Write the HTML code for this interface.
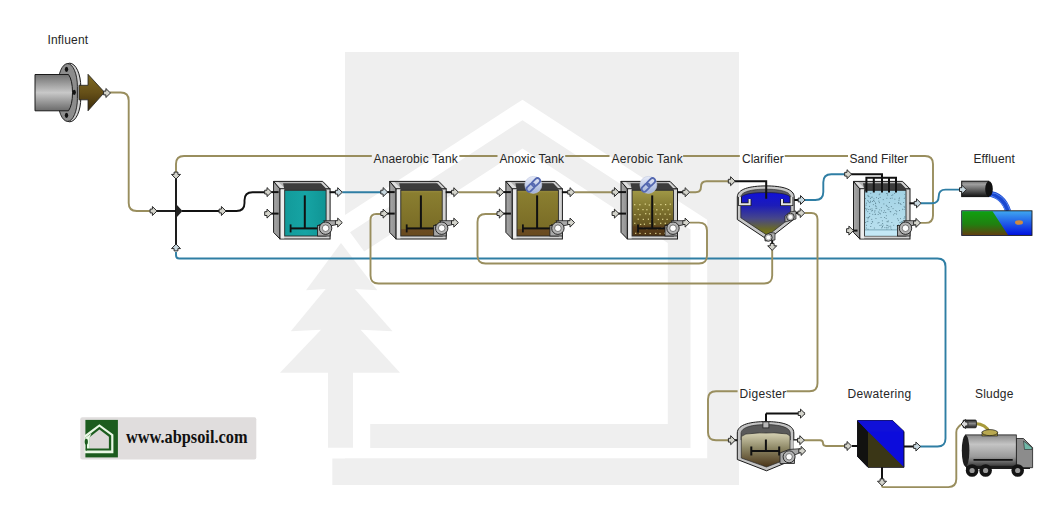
<!DOCTYPE html>
<html><head><meta charset="utf-8"><style>
html,body{margin:0;padding:0;background:#fff;}
svg{display:block;}
</style></head><body>
<svg width="1063" height="527" viewBox="0 0 1063 527" font-family="Liberation Sans, sans-serif">

<defs>
<linearGradient id="sidegrad" x1="0" y1="0" x2="1" y2="0"><stop offset="0" stop-color="#a8a8a8"/><stop offset="1" stop-color="#8e8e8e"/></linearGradient>
<linearGradient id="teal" x1="0" y1="0" x2="1" y2="0"><stop offset="0" stop-color="#129a9a"/><stop offset="0.5" stop-color="#16a4a4"/><stop offset="1" stop-color="#109494"/></linearGradient>
<linearGradient id="olive" x1="0" y1="0" x2="0" y2="1"><stop offset="0" stop-color="#9a8e40"/><stop offset="0.06" stop-color="#8a7e30"/><stop offset="0.84" stop-color="#7a6c26"/><stop offset="0.86" stop-color="#6c4c22"/><stop offset="1" stop-color="#684a1e"/></linearGradient>
<linearGradient id="olive2" x1="0" y1="0" x2="0" y2="1"><stop offset="0" stop-color="#a09846"/><stop offset="0.35" stop-color="#847a32"/><stop offset="0.75" stop-color="#645420"/><stop offset="0.8" stop-color="#5a3e1a"/><stop offset="1" stop-color="#4e3414"/></linearGradient>
<linearGradient id="sand" x1="0" y1="0" x2="0" y2="1"><stop offset="0" stop-color="#a2d2e4"/><stop offset="1" stop-color="#bce2f0"/></linearGradient>
<linearGradient id="pipegrad" x1="0" y1="0" x2="0" y2="1"><stop offset="0" stop-color="#707070"/><stop offset="0.5" stop-color="#c8c8c8"/><stop offset="1" stop-color="#6a6a6a"/></linearGradient>
<linearGradient id="arrowgrad" x1="0" y1="0" x2="0" y2="1"><stop offset="0" stop-color="#7e6a22"/><stop offset="0.5" stop-color="#665018"/><stop offset="1" stop-color="#3a2a0a"/></linearGradient>
<linearGradient id="clargrad" x1="0" y1="0" x2="0" y2="1"><stop offset="0" stop-color="#1010d8"/><stop offset="0.3" stop-color="#1c1cb8"/><stop offset="0.6" stop-color="#46468a"/><stop offset="0.85" stop-color="#6a6a28"/><stop offset="1" stop-color="#7a7a14"/></linearGradient>
<linearGradient id="diggrad" x1="0" y1="0" x2="0" y2="1"><stop offset="0" stop-color="#d6d2b4"/><stop offset="0.45" stop-color="#8e8866"/><stop offset="1" stop-color="#4a3418"/></linearGradient>
<linearGradient id="effpipe" x1="0" y1="0" x2="0" y2="1"><stop offset="0" stop-color="#707070"/><stop offset="0.2" stop-color="#a0a0a0"/><stop offset="1" stop-color="#141414"/></linearGradient>
<linearGradient id="watergrad" x1="0" y1="0" x2="0" y2="1"><stop offset="0" stop-color="#40a8f0"/><stop offset="1" stop-color="#0010e0"/></linearGradient>
<linearGradient id="groundgrad" x1="0" y1="0" x2="0" y2="1"><stop offset="0" stop-color="#10a010"/><stop offset="0.55" stop-color="#208010"/><stop offset="1" stop-color="#604010"/></linearGradient>
<linearGradient id="tankgrad" x1="0" y1="0" x2="0" y2="1"><stop offset="0" stop-color="#8a8a8a"/><stop offset="0.3" stop-color="#c4c4c4"/><stop offset="0.7" stop-color="#9a9a9a"/><stop offset="1" stop-color="#3a3a3a"/></linearGradient>
<linearGradient id="linkgrad" x1="0" y1="0" x2="0" y2="1"><stop offset="0" stop-color="#e8ecf8"/><stop offset="1" stop-color="#a0b0d8"/></linearGradient>
<linearGradient id="nozgrad" x1="0" y1="0" x2="0" y2="1"><stop offset="0" stop-color="#202020"/><stop offset="0.45" stop-color="#8a8a8a"/><stop offset="1" stop-color="#1a1a1a"/></linearGradient>
</defs>

<rect width="1063" height="527" fill="#fff"/>
<rect x="345" y="52" width="394" height="433" fill="#efefef"/>
<polygon points="522.5,99.7 707.2,219.8 707.2,458.5 300,458.5 300,244.3" fill="#fff"/>
<polygon points="522.5,120.2 690.5,229.4 690.5,448 370.2,448 370.2,424 667.8,424 667.8,243 522.5,148.6 364.2,251.5 350,232.3" fill="#efefef"/>
<rect x="332.3" y="458.5" width="406.7" height="26.5" fill="#efefef"/>
<polygon points="341,243 377.3,290.3 355,289 392.5,331.3 360.6,329.7 400,372.8 353,372.8 353,447.7 328,447.7 328,372.8 280,372.8 321,329.7 290.8,331.3 325.7,289 306,290.3" fill="#efefef"/>
<path d="M110,92.5 L120.70,92.50 Q128.7,92.5 128.70,100.50 L128.70,203.00 Q128.7,211 136.70,211.00 L150,211" fill="none" stroke="#998e5e" stroke-width="1.9"/>
<path d="M157,211 L176,211" fill="none" stroke="#111" stroke-width="1.9"/>
<path d="M176,177 L176,246" fill="none" stroke="#111" stroke-width="1.9"/>
<path d="M182,211 L236.50,211.00 Q244.5,211 244.50,203.00 L244.50,200.30 Q244.5,192.3 252.50,192.30 L266,192.3" fill="none" stroke="#111" stroke-width="1.9"/>
<path d="M918,222.9 L925.50,222.90 Q933,222.9 933.00,215.40 L933.00,164.00 Q933,156 925.00,156.00 L909.8,156" fill="none" stroke="#998e5e" stroke-width="1.9"/>
<path d="M371.8,156 L184.00,156.00 Q176,156 176.00,164.00 L176,172" fill="none" stroke="#998e5e" stroke-width="1.9"/>
<path d="M459.4,156 L497.5,156" fill="none" stroke="#998e5e" stroke-width="1.9"/>
<path d="M565.2,156 L609.5,156" fill="none" stroke="#998e5e" stroke-width="1.9"/>
<path d="M683.1,156 L739.8,156" fill="none" stroke="#998e5e" stroke-width="1.9"/>
<path d="M784.7,156 L848,156" fill="none" stroke="#998e5e" stroke-width="1.9"/>
<path d="M176,252 L176.00,255.25 Q176,258.5 179.25,258.50 L937.50,258.50 Q945.5,258.5 945.50,266.50 L945.50,438.50 Q945.5,446.5 937.50,446.50 L918,446.5" fill="none" stroke="#2f7ea4" stroke-width="1.9"/>
<path d="M342.3,192.2 L383,192.2" fill="none" stroke="#2f7ea4" stroke-width="1.9"/>
<path d="M458.4,192.2 L499,192.2" fill="none" stroke="#998e5e" stroke-width="1.9"/>
<path d="M574.6,192.2 L615,192.2" fill="none" stroke="#998e5e" stroke-width="1.9"/>
<path d="M689.7,192.2 L695.50,192.20 Q701,192.2 701.00,186.70 L701.00,186.70 Q701,181.2 706.50,181.20 L729,181.2" fill="none" stroke="#998e5e" stroke-width="1.9"/>
<path d="M772.2,250 L772.20,275.50 Q772.2,283.5 764.20,283.50 L378.50,283.50 Q370.5,283.5 370.50,275.50 L370.50,219.75 Q370.5,214 376.25,214.00 L382,214" fill="none" stroke="#998e5e" stroke-width="1.9"/>
<path d="M689.7,222.6 L699.00,222.60 Q707,222.6 707.00,230.60 L707.00,255.50 Q707,263.5 699.00,263.50 L485.50,263.50 Q477.5,263.5 477.50,255.50 L477.50,222.00 Q477.5,214 485.50,214.00 L498,214" fill="none" stroke="#998e5e" stroke-width="1.9"/>
<path d="M805,213 L811.25,213.00 Q817.5,213 817.50,219.25 L817.50,383.20 Q817.5,391.2 809.50,391.20 L786.6,391.2" fill="none" stroke="#998e5e" stroke-width="1.9"/>
<path d="M737.6,391.2 L716.00,391.20 Q708,391.2 708.00,399.20 L708.00,432.20 Q708,440.2 716.00,440.20 L730,440.2" fill="none" stroke="#998e5e" stroke-width="1.9"/>
<path d="M805,200 L815.30,200.00 Q823.3,200 823.30,192.00 L823.30,182.20 Q823.3,174.2 831.30,174.20 L846,174.2" fill="none" stroke="#2f7ea4" stroke-width="1.9"/>
<path d="M921,203.3 L931.85,203.30 Q938.7,203.3 938.70,196.45 L938.70,196.45 Q938.7,189.6 945.55,189.60 L960,189.6" fill="none" stroke="#2f7ea4" stroke-width="1.9"/>
<path d="M804,440.2 L820.10,440.20 Q823,440.2 823.00,443.10 L823.00,443.10 Q823,446 825.90,446.00 L847,446" fill="none" stroke="#998e5e" stroke-width="1.9"/>
<path d="M882,485 L882.00,486.05 Q882,487.1 883.05,487.10 L948.30,487.10 Q956.3,487.1 956.30,479.10 L956.30,432.25 Q956.3,429 958.65,426.75 L961,424.5" fill="none" stroke="#998e5e" stroke-width="1.9"/>
<rect x="58.6" y="63.2" width="22.2" height="58.6" rx="11.1" ry="24" fill="#d0d0d0" stroke="#1a1a1a" stroke-width="1"/>
<rect x="57.8" y="63.6" width="19.6" height="57.8" rx="9.8" ry="23" fill="#8c8c8c" stroke="#1a1a1a" stroke-width="0.9"/>
<path d="M35,74.5 L68.5,74.5 Q72.5,80 72.5,92.5 Q72.5,105 68.5,110.8 L35,110.8 Z" fill="url(#pipegrad)" stroke="#1a1a1a" stroke-width="1"/>
<ellipse cx="66.5" cy="69.3" rx="1.7" ry="2.6" fill="#111"/><ellipse cx="74.2" cy="92.3" rx="1.7" ry="2.6" fill="#111"/><ellipse cx="66.5" cy="115.3" rx="1.7" ry="2.6" fill="#111"/>
<path d="M79,85.3 L88,85.3 L88,74.3 L104.5,92.3 L88,110.8 L88,99.8 L79,99.8 Z" fill="url(#arrowgrad)" stroke="#222" stroke-width="0.8"/>
<polygon points="105.90,88.50 110.50,93.00 105.90,97.50 105.90,94.90 103.60,94.90 103.60,91.10 105.90,91.10" fill="#d4d4cc" stroke="#2a2a2a" stroke-width="1" stroke-linejoin="miter"/>
<polygon points="152.40,206.50 157.00,211.00 152.40,215.50 152.40,212.90 150.10,212.90 150.10,209.10 152.40,209.10" fill="#d4d4cc" stroke="#2a2a2a" stroke-width="1" stroke-linejoin="miter"/>
<polygon points="171.50,174.40 176.00,179.00 180.50,174.40 177.90,174.40 177.90,172.10 174.10,172.10 174.10,174.40" fill="#d4d4cc" stroke="#2a2a2a" stroke-width="1" stroke-linejoin="miter"/>
<polygon points="171.50,248.60 176.00,244.00 180.50,248.60 177.90,248.60 177.90,250.90 174.10,250.90 174.10,248.60" fill="#c8d8e0" stroke="#2a2a2a" stroke-width="1" stroke-linejoin="miter"/>
<polygon points="176,204 182.5,211 176,218" fill="#222"/>
<polygon points="221.40,206.50 226.00,211.00 221.40,215.50 221.40,212.90 219.10,212.90 219.10,209.10 221.40,209.10" fill="#d4d4cc" stroke="#2a2a2a" stroke-width="1" stroke-linejoin="miter"/>
<g transform="translate(273.6,181.4)">
<polygon points="0,0 6.4,7.5 6.4,57.6 0,51" fill="url(#sidegrad)" stroke="#1a1a1a" stroke-width="1"/>
<polygon points="0,0 49.1,0 56.5,7.5 6.4,7.5" fill="#b4b4b4" stroke="#1a1a1a" stroke-width="1"/>
<polygon points="1.5,0.8 6.8,6.8 11,6.8 5,0.8" fill="#e0e0e0"/>
<polygon points="48.5,0.8 54.5,6.8 51,6.8 46,0.8" fill="#d8d8d8"/>
<rect x="6.4" y="7.5" width="50.1" height="50.1" fill="#d2d2d2" stroke="#1a1a1a" stroke-width="1"/>
<polygon points="9.5,1.8 47.5,1.8 52.5,7 52.5,9 11,9" fill="#3c3c3c"/>
<rect x="7.2" y="8" width="3.4" height="49" fill="#ececec"/>
<rect x="11.1" y="8.9" width="41.4" height="45.7" fill="url(#teal)" stroke="#2a2a2a" stroke-width="0.9"/>
<line x1="31.2" y1="14" x2="31.2" y2="47" stroke="#111" stroke-width="2"/>
<line x1="17" y1="47" x2="46" y2="47" stroke="#111" stroke-width="2"/>
<line x1="17" y1="43" x2="17" y2="51" stroke="#111" stroke-width="1.8"/>
<line x1="46" y1="43" x2="46" y2="51" stroke="#111" stroke-width="1.8"/>
<rect x="44" y="44" width="12.5" height="10.6" fill="#a8a8a8" stroke="#1a1a1a" stroke-width="0.8"/>
<path d="M50,39.3 L62.5,39.3 L62.5,43.3 L55,45 Z" fill="#a8a8a8" stroke="#1a1a1a" stroke-width="0.8"/>
<circle cx="52" cy="46.8" r="6.2" fill="#b4b4b4" stroke="#1a1a1a" stroke-width="0.9"/>
<circle cx="52" cy="46.8" r="3.3" fill="#fff" stroke="#333" stroke-width="0.6"/>
<line x1="-3" y1="10.7" x2="5" y2="10.7" stroke="#111" stroke-width="2"/>
<line x1="-3" y1="32.2" x2="5" y2="32.2" stroke="#111" stroke-width="2"/>
<line x1="56" y1="10.8" x2="63" y2="10.8" stroke="#111" stroke-width="2"/>
</g>
<polygon points="267.00,187.60 271.60,192.10 267.00,196.60 267.00,194.00 264.70,194.00 264.70,190.20 267.00,190.20" fill="#d4d4cc" stroke="#2a2a2a" stroke-width="1" stroke-linejoin="miter"/>
<polygon points="267.00,209.10 271.60,213.60 267.00,218.10 267.00,215.50 264.70,215.50 264.70,211.70 267.00,211.70" fill="#d4d4cc" stroke="#2a2a2a" stroke-width="1" stroke-linejoin="miter"/>
<polygon points="337.70,187.70 342.30,192.20 337.70,196.70 337.70,194.10 335.40,194.10 335.40,190.30 337.70,190.30" fill="#c8d8e0" stroke="#2a2a2a" stroke-width="1" stroke-linejoin="miter"/>
<polygon points="337.70,218.10 342.30,222.60 337.70,227.10 337.70,224.50 335.40,224.50 335.40,220.70 337.70,220.70" fill="#d4d4cc" stroke="#2a2a2a" stroke-width="1" stroke-linejoin="miter"/>
<g transform="translate(389.7,181.4)">
<polygon points="0,0 6.4,7.5 6.4,57.6 0,51" fill="url(#sidegrad)" stroke="#1a1a1a" stroke-width="1"/>
<polygon points="0,0 49.1,0 56.5,7.5 6.4,7.5" fill="#b4b4b4" stroke="#1a1a1a" stroke-width="1"/>
<polygon points="1.5,0.8 6.8,6.8 11,6.8 5,0.8" fill="#e0e0e0"/>
<polygon points="48.5,0.8 54.5,6.8 51,6.8 46,0.8" fill="#d8d8d8"/>
<rect x="6.4" y="7.5" width="50.1" height="50.1" fill="#d2d2d2" stroke="#1a1a1a" stroke-width="1"/>
<polygon points="9.5,1.8 47.5,1.8 52.5,7 52.5,9 11,9" fill="#3c3c3c"/>
<rect x="7.2" y="8" width="3.4" height="49" fill="#ececec"/>
<rect x="11.1" y="8.9" width="41.4" height="45.7" fill="url(#olive)" stroke="#2a2a2a" stroke-width="0.9"/>
<line x1="31.2" y1="14" x2="31.2" y2="47" stroke="#111" stroke-width="2"/>
<line x1="17" y1="47" x2="46" y2="47" stroke="#111" stroke-width="2"/>
<line x1="17" y1="43" x2="17" y2="51" stroke="#111" stroke-width="1.8"/>
<line x1="46" y1="43" x2="46" y2="51" stroke="#111" stroke-width="1.8"/>
<rect x="44" y="44" width="12.5" height="10.6" fill="#a8a8a8" stroke="#1a1a1a" stroke-width="0.8"/>
<path d="M50,39.3 L62.5,39.3 L62.5,43.3 L55,45 Z" fill="#a8a8a8" stroke="#1a1a1a" stroke-width="0.8"/>
<circle cx="52" cy="46.8" r="6.2" fill="#b4b4b4" stroke="#1a1a1a" stroke-width="0.9"/>
<circle cx="52" cy="46.8" r="3.3" fill="#fff" stroke="#333" stroke-width="0.6"/>
<line x1="-3" y1="10.7" x2="5" y2="10.7" stroke="#111" stroke-width="2"/>
<line x1="-3" y1="32.2" x2="5" y2="32.2" stroke="#111" stroke-width="2"/>
<line x1="56" y1="10.8" x2="63" y2="10.8" stroke="#111" stroke-width="2"/>
</g>
<polygon points="383.10,187.60 387.70,192.10 383.10,196.60 383.10,194.00 380.80,194.00 380.80,190.20 383.10,190.20" fill="#c8d8e0" stroke="#2a2a2a" stroke-width="1" stroke-linejoin="miter"/>
<polygon points="383.10,209.10 387.70,213.60 383.10,218.10 383.10,215.50 380.80,215.50 380.80,211.70 383.10,211.70" fill="#d4d4cc" stroke="#2a2a2a" stroke-width="1" stroke-linejoin="miter"/>
<polygon points="453.80,187.70 458.40,192.20 453.80,196.70 453.80,194.10 451.50,194.10 451.50,190.30 453.80,190.30" fill="#d4d4cc" stroke="#2a2a2a" stroke-width="1" stroke-linejoin="miter"/>
<polygon points="453.80,218.10 458.40,222.60 453.80,227.10 453.80,224.50 451.50,224.50 451.50,220.70 453.80,220.70" fill="#d4d4cc" stroke="#2a2a2a" stroke-width="1" stroke-linejoin="miter"/>
<g transform="translate(505.9,181.4)">
<polygon points="0,0 6.4,7.5 6.4,57.6 0,51" fill="url(#sidegrad)" stroke="#1a1a1a" stroke-width="1"/>
<polygon points="0,0 49.1,0 56.5,7.5 6.4,7.5" fill="#b4b4b4" stroke="#1a1a1a" stroke-width="1"/>
<polygon points="1.5,0.8 6.8,6.8 11,6.8 5,0.8" fill="#e0e0e0"/>
<polygon points="48.5,0.8 54.5,6.8 51,6.8 46,0.8" fill="#d8d8d8"/>
<rect x="6.4" y="7.5" width="50.1" height="50.1" fill="#d2d2d2" stroke="#1a1a1a" stroke-width="1"/>
<polygon points="9.5,1.8 47.5,1.8 52.5,7 52.5,9 11,9" fill="#3c3c3c"/>
<rect x="7.2" y="8" width="3.4" height="49" fill="#ececec"/>
<rect x="11.1" y="8.9" width="41.4" height="45.7" fill="url(#olive)" stroke="#2a2a2a" stroke-width="0.9"/>
<line x1="31.2" y1="14" x2="31.2" y2="47" stroke="#111" stroke-width="2"/>
<line x1="17" y1="47" x2="46" y2="47" stroke="#111" stroke-width="2"/>
<line x1="17" y1="43" x2="17" y2="51" stroke="#111" stroke-width="1.8"/>
<line x1="46" y1="43" x2="46" y2="51" stroke="#111" stroke-width="1.8"/>
<rect x="44" y="44" width="12.5" height="10.6" fill="#a8a8a8" stroke="#1a1a1a" stroke-width="0.8"/>
<path d="M50,39.3 L62.5,39.3 L62.5,43.3 L55,45 Z" fill="#a8a8a8" stroke="#1a1a1a" stroke-width="0.8"/>
<circle cx="52" cy="46.8" r="6.2" fill="#b4b4b4" stroke="#1a1a1a" stroke-width="0.9"/>
<circle cx="52" cy="46.8" r="3.3" fill="#fff" stroke="#333" stroke-width="0.6"/>
<line x1="-3" y1="10.7" x2="5" y2="10.7" stroke="#111" stroke-width="2"/>
<line x1="-3" y1="32.2" x2="5" y2="32.2" stroke="#111" stroke-width="2"/>
<line x1="56" y1="10.8" x2="63" y2="10.8" stroke="#111" stroke-width="2"/>
</g>
<polygon points="499.30,187.60 503.90,192.10 499.30,196.60 499.30,194.00 497.00,194.00 497.00,190.20 499.30,190.20" fill="#d4d4cc" stroke="#2a2a2a" stroke-width="1" stroke-linejoin="miter"/>
<polygon points="499.30,209.10 503.90,213.60 499.30,218.10 499.30,215.50 497.00,215.50 497.00,211.70 499.30,211.70" fill="#d4d4cc" stroke="#2a2a2a" stroke-width="1" stroke-linejoin="miter"/>
<polygon points="570.00,187.70 574.60,192.20 570.00,196.70 570.00,194.10 567.70,194.10 567.70,190.30 570.00,190.30" fill="#d4d4cc" stroke="#2a2a2a" stroke-width="1" stroke-linejoin="miter"/>
<polygon points="570.00,218.10 574.60,222.60 570.00,227.10 570.00,224.50 567.70,224.50 567.70,220.70 570.00,220.70" fill="#d4d4cc" stroke="#2a2a2a" stroke-width="1" stroke-linejoin="miter"/>
<circle cx="533.3" cy="184.9" r="8.5" fill="url(#linkgrad)" stroke="#c0c8e0" stroke-width="0.6"/>
<g transform="translate(533.3,184.9) rotate(-45)"><rect x="-1" y="-2.6" width="9.5" height="5.2" rx="2.6" fill="none" stroke="#5468b0" stroke-width="1.8"/><rect x="-8.5" y="-2.6" width="9.5" height="5.2" rx="2.6" fill="none" stroke="#5468b0" stroke-width="1.8"/></g>
<g transform="translate(621.0,181.4)">
<polygon points="0,0 6.4,7.5 6.4,57.6 0,51" fill="url(#sidegrad)" stroke="#1a1a1a" stroke-width="1"/>
<polygon points="0,0 49.1,0 56.5,7.5 6.4,7.5" fill="#b4b4b4" stroke="#1a1a1a" stroke-width="1"/>
<polygon points="1.5,0.8 6.8,6.8 11,6.8 5,0.8" fill="#e0e0e0"/>
<polygon points="48.5,0.8 54.5,6.8 51,6.8 46,0.8" fill="#d8d8d8"/>
<rect x="6.4" y="7.5" width="50.1" height="50.1" fill="#d2d2d2" stroke="#1a1a1a" stroke-width="1"/>
<polygon points="9.5,1.8 47.5,1.8 52.5,7 52.5,9 11,9" fill="#3c3c3c"/>
<rect x="7.2" y="8" width="3.4" height="49" fill="#ececec"/>
<rect x="11.1" y="8.9" width="41.4" height="45.7" fill="url(#olive2)" stroke="#2a2a2a" stroke-width="0.9"/>
<rect x="13.1" y="22.7" width="1.2" height="1.2" fill="#e4dc94"/>
<rect x="18.3" y="22.7" width="1.2" height="1.2" fill="#e4dc94"/>
<rect x="23.7" y="22.1" width="1.2" height="1.2" fill="#e4dc94"/>
<rect x="27.7" y="23.0" width="1.2" height="1.2" fill="#e4dc94"/>
<rect x="33.1" y="22.3" width="1.2" height="1.2" fill="#e4dc94"/>
<rect x="39.3" y="22.6" width="1.2" height="1.2" fill="#e4dc94"/>
<rect x="44.0" y="22.6" width="1.2" height="1.2" fill="#e4dc94"/>
<rect x="48.7" y="22.2" width="1.2" height="1.2" fill="#e4dc94"/>
<rect x="16.6" y="27.4" width="1.2" height="1.2" fill="#e4dc94"/>
<rect x="21.4" y="27.6" width="1.2" height="1.2" fill="#e4dc94"/>
<rect x="25.3" y="27.7" width="1.2" height="1.2" fill="#e4dc94"/>
<rect x="31.1" y="27.2" width="1.2" height="1.2" fill="#e4dc94"/>
<rect x="35.2" y="27.8" width="1.2" height="1.2" fill="#e4dc94"/>
<rect x="41.0" y="27.7" width="1.2" height="1.2" fill="#e4dc94"/>
<rect x="46.6" y="27.7" width="1.2" height="1.2" fill="#e4dc94"/>
<rect x="13.3" y="32.6" width="1.2" height="1.2" fill="#e4dc94"/>
<rect x="18.4" y="32.7" width="1.2" height="1.2" fill="#e4dc94"/>
<rect x="24.1" y="31.7" width="1.2" height="1.2" fill="#e4dc94"/>
<rect x="27.9" y="31.9" width="1.2" height="1.2" fill="#e4dc94"/>
<rect x="34.2" y="32.1" width="1.2" height="1.2" fill="#e4dc94"/>
<rect x="38.7" y="32.0" width="1.2" height="1.2" fill="#e4dc94"/>
<rect x="43.5" y="32.1" width="1.2" height="1.2" fill="#e4dc94"/>
<rect x="48.3" y="32.3" width="1.2" height="1.2" fill="#e4dc94"/>
<rect x="16.6" y="37.2" width="1.2" height="1.2" fill="#e4dc94"/>
<rect x="21.7" y="37.4" width="1.2" height="1.2" fill="#e4dc94"/>
<rect x="26.8" y="37.2" width="1.2" height="1.2" fill="#e4dc94"/>
<rect x="30.5" y="37.4" width="1.2" height="1.2" fill="#e4dc94"/>
<rect x="36.7" y="37.5" width="1.2" height="1.2" fill="#e4dc94"/>
<rect x="41.1" y="37.3" width="1.2" height="1.2" fill="#e4dc94"/>
<rect x="45.5" y="37.4" width="1.2" height="1.2" fill="#e4dc94"/>
<rect x="13.2" y="41.3" width="1.2" height="1.2" fill="#e4dc94"/>
<rect x="19.1" y="42.4" width="1.2" height="1.2" fill="#e4dc94"/>
<rect x="22.8" y="42.2" width="1.2" height="1.2" fill="#e4dc94"/>
<rect x="28.4" y="41.4" width="1.2" height="1.2" fill="#e4dc94"/>
<rect x="33.2" y="42.1" width="1.2" height="1.2" fill="#e4dc94"/>
<rect x="39.1" y="41.3" width="1.2" height="1.2" fill="#e4dc94"/>
<rect x="43.7" y="41.3" width="1.2" height="1.2" fill="#e4dc94"/>
<rect x="48.8" y="41.6" width="1.2" height="1.2" fill="#e4dc94"/>
<rect x="16.8" y="46.6" width="1.2" height="1.2" fill="#e4dc94"/>
<rect x="21.8" y="46.4" width="1.2" height="1.2" fill="#e4dc94"/>
<rect x="25.3" y="46.7" width="1.2" height="1.2" fill="#e4dc94"/>
<rect x="30.3" y="46.2" width="1.2" height="1.2" fill="#e4dc94"/>
<rect x="35.9" y="46.7" width="1.2" height="1.2" fill="#e4dc94"/>
<rect x="40.4" y="46.1" width="1.2" height="1.2" fill="#e4dc94"/>
<rect x="46.6" y="46.4" width="1.2" height="1.2" fill="#e4dc94"/>
<rect x="14.1" y="51.3" width="1.2" height="1.2" fill="#e4dc94"/>
<rect x="18.4" y="51.4" width="1.2" height="1.2" fill="#e4dc94"/>
<rect x="23.7" y="51.5" width="1.2" height="1.2" fill="#e4dc94"/>
<rect x="28.6" y="51.5" width="1.2" height="1.2" fill="#e4dc94"/>
<rect x="34.2" y="51.4" width="1.2" height="1.2" fill="#e4dc94"/>
<rect x="38.4" y="51.7" width="1.2" height="1.2" fill="#e4dc94"/>
<rect x="43.1" y="51.2" width="1.2" height="1.2" fill="#e4dc94"/>
<rect x="49.3" y="51.4" width="1.2" height="1.2" fill="#e4dc94"/>
<line x1="31.2" y1="14" x2="31.2" y2="47" stroke="#111" stroke-width="2"/>
<line x1="17" y1="47" x2="46" y2="47" stroke="#111" stroke-width="2"/>
<line x1="17" y1="43" x2="17" y2="51" stroke="#111" stroke-width="1.8"/>
<line x1="46" y1="43" x2="46" y2="51" stroke="#111" stroke-width="1.8"/>
<rect x="44" y="44" width="12.5" height="10.6" fill="#a8a8a8" stroke="#1a1a1a" stroke-width="0.8"/>
<path d="M50,39.3 L62.5,39.3 L62.5,43.3 L55,45 Z" fill="#a8a8a8" stroke="#1a1a1a" stroke-width="0.8"/>
<circle cx="52" cy="46.8" r="6.2" fill="#b4b4b4" stroke="#1a1a1a" stroke-width="0.9"/>
<circle cx="52" cy="46.8" r="3.3" fill="#fff" stroke="#333" stroke-width="0.6"/>
<line x1="-3" y1="10.7" x2="5" y2="10.7" stroke="#111" stroke-width="2"/>
<line x1="-3" y1="32.2" x2="5" y2="32.2" stroke="#111" stroke-width="2"/>
<line x1="56" y1="10.8" x2="63" y2="10.8" stroke="#111" stroke-width="2"/>
</g>
<polygon points="614.40,187.60 619.00,192.10 614.40,196.60 614.40,194.00 612.10,194.00 612.10,190.20 614.40,190.20" fill="#d4d4cc" stroke="#2a2a2a" stroke-width="1" stroke-linejoin="miter"/>
<polygon points="614.40,209.10 619.00,213.60 614.40,218.10 614.40,215.50 612.10,215.50 612.10,211.70 614.40,211.70" fill="#d4d4cc" stroke="#2a2a2a" stroke-width="1" stroke-linejoin="miter"/>
<polygon points="685.10,187.70 689.70,192.20 685.10,196.70 685.10,194.10 682.80,194.10 682.80,190.30 685.10,190.30" fill="#d4d4cc" stroke="#2a2a2a" stroke-width="1" stroke-linejoin="miter"/>
<polygon points="685.10,218.10 689.70,222.60 685.10,227.10 685.10,224.50 682.80,224.50 682.80,220.70 685.10,220.70" fill="#d4d4cc" stroke="#2a2a2a" stroke-width="1" stroke-linejoin="miter"/>
<circle cx="648.4" cy="184.9" r="8.5" fill="url(#linkgrad)" stroke="#c0c8e0" stroke-width="0.6"/>
<g transform="translate(648.4,184.9) rotate(-45)"><rect x="-1" y="-2.6" width="9.5" height="5.2" rx="2.6" fill="none" stroke="#5468b0" stroke-width="1.8"/><rect x="-8.5" y="-2.6" width="9.5" height="5.2" rx="2.6" fill="none" stroke="#5468b0" stroke-width="1.8"/></g>
<line x1="790" y1="200" x2="800" y2="200" stroke="#111" stroke-width="2"/>
<line x1="790" y1="213" x2="800" y2="213" stroke="#111" stroke-width="2"/>
<line x1="772.2" y1="236" x2="772.2" y2="245" stroke="#111" stroke-width="2"/>
<path d="M737.3,197 C737.3,189 750,185.9 766,185.9 C782,185.9 794.2,189 794.2,197 L794.2,219 L767.7,239.8 L737.3,219.5 Z" fill="#c8c8c8" stroke="#1a1a1a" stroke-width="1"/>
<path d="M740.8,197.5 C740.8,191.5 752,189.2 766,189.2 C780,189.2 790.7,191.5 790.7,197.5 L790.7,201 L740.8,201 Z" fill="#5a5a64" stroke="#222" stroke-width="0.6"/>
<path d="M740.8,198 C742,194 752,192.6 766,192.6 C780,192.6 789.5,194 790.7,198 L790.7,217.5 L767.7,235.6 L740.8,217.8 Z" fill="url(#clargrad)" stroke="#222" stroke-width="0.7"/>
<path d="M740,197 L740,204.2 L749.6,204.2 L749.6,199" fill="none" stroke="#1a1a1a" stroke-width="3.6"/>
<path d="M740,197 L740,204.2 L749.6,204.2 L749.6,199" fill="none" stroke="#e4e4e4" stroke-width="2"/>
<path d="M791.5,197 L791.5,204.2 L782,204.2 L782,199" fill="none" stroke="#1a1a1a" stroke-width="3.6"/>
<path d="M791.5,197 L791.5,204.2 L782,204.2 L782,199" fill="none" stroke="#e4e4e4" stroke-width="2"/>
<path d="M735,181.2 L766.2,181.2 L766.2,198.8" fill="none" stroke="#111" stroke-width="2"/>
<path d="M785,222 L785,216 L790,212 L796,211 L796,219 Z" fill="#a8a8a8" stroke="#1a1a1a" stroke-width="0.7"/>
<circle cx="790.4" cy="217" r="3.8" fill="#b4b4b4" stroke="#1a1a1a" stroke-width="0.8"/><circle cx="790.4" cy="217" r="2" fill="#fff"/>
<path d="M765,241 L765,236 L770,232.5 L775,233 L775,240 Z" fill="#a8a8a8" stroke="#1a1a1a" stroke-width="0.7"/>
<circle cx="768.4" cy="237.5" r="3.8" fill="#b4b4b4" stroke="#1a1a1a" stroke-width="0.8"/><circle cx="768.4" cy="237.5" r="2" fill="#fff"/>
<polygon points="730.60,176.70 735.20,181.20 730.60,185.70 730.60,183.10 728.30,183.10 728.30,179.30 730.60,179.30" fill="#d4d4cc" stroke="#2a2a2a" stroke-width="1" stroke-linejoin="miter"/>
<polygon points="800.50,195.50 805.10,200.00 800.50,204.50 800.50,201.90 798.20,201.90 798.20,198.10 800.50,198.10" fill="#c8d8e0" stroke="#2a2a2a" stroke-width="1" stroke-linejoin="miter"/>
<polygon points="800.20,208.50 804.80,213.00 800.20,217.50 800.20,214.90 797.90,214.90 797.90,211.10 800.20,211.10" fill="#d4d4cc" stroke="#2a2a2a" stroke-width="1" stroke-linejoin="miter"/>
<polygon points="767.70,245.80 772.20,250.40 776.70,245.80 774.10,245.80 774.10,243.50 770.30,243.50 770.30,245.80" fill="#d4d4cc" stroke="#2a2a2a" stroke-width="1" stroke-linejoin="miter"/>
<g transform="translate(853.5,181.4)">
<polygon points="0,0 6.4,7.5 6.4,57.6 0,51" fill="url(#sidegrad)" stroke="#1a1a1a" stroke-width="1"/>
<polygon points="0,0 49.1,0 56.5,7.5 6.4,7.5" fill="#b4b4b4" stroke="#1a1a1a" stroke-width="1"/>
<polygon points="1.5,0.8 6.8,6.8 11,6.8 5,0.8" fill="#e0e0e0"/>
<polygon points="48.5,0.8 54.5,6.8 51,6.8 46,0.8" fill="#d8d8d8"/>
<rect x="6.4" y="7.5" width="50.1" height="50.1" fill="#d2d2d2" stroke="#1a1a1a" stroke-width="1"/>
<polygon points="9.5,1.8 47.5,1.8 52.5,7 52.5,9 11,9" fill="#3c3c3c"/>
<rect x="7.2" y="8" width="3.4" height="49" fill="#ececec"/>
<rect x="11.1" y="8.9" width="41.4" height="45.7" fill="url(#sand)" stroke="#2a2a2a" stroke-width="0.9"/>
<rect x="24.6" y="16.6" width="0.9" height="0.9" fill="#5a8090"/><rect x="37.9" y="13.7" width="0.9" height="0.9" fill="#5a8090"/><rect x="33.2" y="24.5" width="0.9" height="0.9" fill="#5a8090"/><rect x="13.8" y="29.8" width="0.9" height="0.9" fill="#5a8090"/><rect x="13.0" y="27.0" width="0.9" height="0.9" fill="#5a8090"/><rect x="14.3" y="14.4" width="0.9" height="0.9" fill="#5a8090"/><rect x="28.7" y="41.6" width="0.9" height="0.9" fill="#5a8090"/><rect x="16.5" y="19.3" width="0.9" height="0.9" fill="#5a8090"/><rect x="36.9" y="46.1" width="0.9" height="0.9" fill="#5a8090"/><rect x="34.9" y="25.7" width="0.9" height="0.9" fill="#5a8090"/><rect x="51.0" y="12.7" width="0.9" height="0.9" fill="#5a8090"/><rect x="46.3" y="21.7" width="0.9" height="0.9" fill="#5a8090"/><rect x="17.3" y="15.4" width="0.9" height="0.9" fill="#5a8090"/><rect x="24.0" y="41.2" width="0.9" height="0.9" fill="#5a8090"/><rect x="18.8" y="32.5" width="0.9" height="0.9" fill="#5a8090"/><rect x="37.4" y="24.8" width="0.9" height="0.9" fill="#5a8090"/><rect x="33.7" y="13.3" width="0.9" height="0.9" fill="#5a8090"/><rect x="13.9" y="18.6" width="0.9" height="0.9" fill="#5a8090"/><rect x="39.1" y="26.8" width="0.9" height="0.9" fill="#5a8090"/><rect x="24.2" y="32.7" width="0.9" height="0.9" fill="#5a8090"/><rect x="29.9" y="22.1" width="0.9" height="0.9" fill="#5a8090"/><rect x="43.7" y="36.9" width="0.9" height="0.9" fill="#5a8090"/><rect x="21.4" y="32.3" width="0.9" height="0.9" fill="#5a8090"/><rect x="32.8" y="43.4" width="0.9" height="0.9" fill="#5a8090"/><rect x="41.0" y="21.7" width="0.9" height="0.9" fill="#5a8090"/><rect x="51.2" y="15.4" width="0.9" height="0.9" fill="#5a8090"/><rect x="28.4" y="39.0" width="0.9" height="0.9" fill="#5a8090"/><rect x="17.7" y="29.1" width="0.9" height="0.9" fill="#5a8090"/><rect x="13.1" y="35.7" width="0.9" height="0.9" fill="#5a8090"/><rect x="42.5" y="32.2" width="0.9" height="0.9" fill="#5a8090"/><rect x="47.0" y="22.6" width="0.9" height="0.9" fill="#5a8090"/><rect x="39.7" y="33.0" width="0.9" height="0.9" fill="#5a8090"/><rect x="35.0" y="27.9" width="0.9" height="0.9" fill="#5a8090"/><rect x="45.5" y="46.0" width="0.9" height="0.9" fill="#5a8090"/><rect x="30.7" y="35.6" width="0.9" height="0.9" fill="#5a8090"/><rect x="14.0" y="37.0" width="0.9" height="0.9" fill="#5a8090"/><rect x="37.7" y="47.7" width="0.9" height="0.9" fill="#5a8090"/><rect x="44.8" y="21.5" width="0.9" height="0.9" fill="#5a8090"/><rect x="27.1" y="35.7" width="0.9" height="0.9" fill="#5a8090"/><rect x="12.4" y="28.1" width="0.9" height="0.9" fill="#5a8090"/><rect x="18.3" y="15.3" width="0.9" height="0.9" fill="#5a8090"/><rect x="13.9" y="39.4" width="0.9" height="0.9" fill="#5a8090"/><rect x="16.7" y="20.2" width="0.9" height="0.9" fill="#5a8090"/><rect x="27.3" y="43.2" width="0.9" height="0.9" fill="#5a8090"/><rect x="14.8" y="27.6" width="0.9" height="0.9" fill="#5a8090"/><rect x="33.8" y="43.7" width="0.9" height="0.9" fill="#5a8090"/><rect x="44.7" y="43.0" width="0.9" height="0.9" fill="#5a8090"/><rect x="22.8" y="26.4" width="0.9" height="0.9" fill="#5a8090"/><rect x="26.0" y="43.7" width="0.9" height="0.9" fill="#5a8090"/><rect x="50.3" y="16.6" width="0.9" height="0.9" fill="#5a8090"/><rect x="18.6" y="19.6" width="0.9" height="0.9" fill="#5a8090"/><rect x="21.0" y="28.9" width="0.9" height="0.9" fill="#5a8090"/><rect x="35.4" y="20.7" width="0.9" height="0.9" fill="#5a8090"/><rect x="11.7" y="26.5" width="0.9" height="0.9" fill="#5a8090"/><rect x="26.5" y="32.0" width="0.9" height="0.9" fill="#5a8090"/><rect x="50.1" y="36.5" width="0.9" height="0.9" fill="#5a8090"/><rect x="32.4" y="33.9" width="0.9" height="0.9" fill="#5a8090"/><rect x="38.9" y="13.0" width="0.9" height="0.9" fill="#5a8090"/><rect x="47.9" y="39.9" width="0.9" height="0.9" fill="#5a8090"/><rect x="46.9" y="40.5" width="0.9" height="0.9" fill="#5a8090"/><rect x="27.4" y="25.8" width="0.9" height="0.9" fill="#5a8090"/><rect x="15.7" y="34.5" width="0.9" height="0.9" fill="#5a8090"/><rect x="14.0" y="13.5" width="0.9" height="0.9" fill="#5a8090"/><rect x="20.0" y="17.0" width="0.9" height="0.9" fill="#5a8090"/><rect x="25.3" y="12.9" width="0.9" height="0.9" fill="#5a8090"/><rect x="11.5" y="16.6" width="0.9" height="0.9" fill="#5a8090"/><rect x="15.6" y="24.5" width="0.9" height="0.9" fill="#5a8090"/><rect x="12.5" y="43.4" width="0.9" height="0.9" fill="#5a8090"/><rect x="36.4" y="16.5" width="0.9" height="0.9" fill="#5a8090"/><rect x="21.7" y="23.9" width="0.9" height="0.9" fill="#5a8090"/><rect x="26.2" y="15.5" width="0.9" height="0.9" fill="#5a8090"/><rect x="45.9" y="47.7" width="0.9" height="0.9" fill="#5a8090"/><rect x="30.4" y="28.9" width="0.9" height="0.9" fill="#5a8090"/><rect x="15.0" y="14.8" width="0.9" height="0.9" fill="#5a8090"/><rect x="25.4" y="20.8" width="0.9" height="0.9" fill="#5a8090"/><rect x="45.1" y="17.0" width="0.9" height="0.9" fill="#5a8090"/><rect x="12.4" y="46.2" width="0.9" height="0.9" fill="#5a8090"/><rect x="32.9" y="16.4" width="0.9" height="0.9" fill="#5a8090"/><rect x="33.5" y="12.0" width="0.9" height="0.9" fill="#5a8090"/><rect x="32.9" y="47.2" width="0.9" height="0.9" fill="#5a8090"/><rect x="46.5" y="36.8" width="0.9" height="0.9" fill="#5a8090"/><rect x="22.1" y="24.6" width="0.9" height="0.9" fill="#5a8090"/><rect x="18.3" y="39.6" width="0.9" height="0.9" fill="#5a8090"/><rect x="33.1" y="39.8" width="0.9" height="0.9" fill="#5a8090"/><rect x="24.9" y="19.3" width="0.9" height="0.9" fill="#5a8090"/><rect x="44.4" y="47.4" width="0.9" height="0.9" fill="#5a8090"/><rect x="46.0" y="40.8" width="0.9" height="0.9" fill="#5a8090"/><rect x="44.6" y="38.4" width="0.9" height="0.9" fill="#5a8090"/><rect x="20.7" y="30.2" width="0.9" height="0.9" fill="#5a8090"/><rect x="25.9" y="12.1" width="0.9" height="0.9" fill="#5a8090"/><rect x="12.6" y="21.3" width="0.9" height="0.9" fill="#5a8090"/><rect x="22.0" y="36.6" width="0.9" height="0.9" fill="#5a8090"/><rect x="50.2" y="27.5" width="0.9" height="0.9" fill="#5a8090"/><rect x="49.4" y="47.6" width="0.9" height="0.9" fill="#5a8090"/><rect x="50.2" y="24.5" width="0.9" height="0.9" fill="#5a8090"/><rect x="20.4" y="19.4" width="0.9" height="0.9" fill="#5a8090"/><rect x="19.5" y="18.6" width="0.9" height="0.9" fill="#5a8090"/><rect x="36.8" y="44.3" width="0.9" height="0.9" fill="#5a8090"/><rect x="45.5" y="28.7" width="0.9" height="0.9" fill="#5a8090"/><rect x="37.9" y="40.6" width="0.9" height="0.9" fill="#5a8090"/><rect x="14.9" y="35.4" width="0.9" height="0.9" fill="#5a8090"/><rect x="48.3" y="39.9" width="0.9" height="0.9" fill="#5a8090"/><rect x="41.9" y="28.7" width="0.9" height="0.9" fill="#5a8090"/><rect x="18.7" y="40.2" width="0.9" height="0.9" fill="#5a8090"/><rect x="25.0" y="40.6" width="0.9" height="0.9" fill="#5a8090"/><rect x="50.9" y="25.6" width="0.9" height="0.9" fill="#5a8090"/><rect x="27.8" y="46.0" width="0.9" height="0.9" fill="#5a8090"/><rect x="40.9" y="17.3" width="0.9" height="0.9" fill="#5a8090"/><rect x="16.6" y="16.6" width="0.9" height="0.9" fill="#5a8090"/><rect x="48.1" y="40.8" width="0.9" height="0.9" fill="#5a8090"/><rect x="17.4" y="41.6" width="0.9" height="0.9" fill="#5a8090"/><rect x="51.2" y="35.3" width="0.9" height="0.9" fill="#5a8090"/><rect x="25.7" y="31.3" width="0.9" height="0.9" fill="#5a8090"/><rect x="16.8" y="11.5" width="0.9" height="0.9" fill="#5a8090"/><rect x="50.8" y="35.0" width="0.9" height="0.9" fill="#5a8090"/><rect x="32.8" y="45.5" width="0.9" height="0.9" fill="#5a8090"/><rect x="29.1" y="43.3" width="0.9" height="0.9" fill="#5a8090"/><rect x="45.0" y="18.8" width="0.9" height="0.9" fill="#5a8090"/><rect x="21.7" y="21.8" width="0.9" height="0.9" fill="#5a8090"/><rect x="21.2" y="32.7" width="0.9" height="0.9" fill="#5a8090"/><rect x="22.0" y="26.5" width="0.9" height="0.9" fill="#5a8090"/><rect x="16.8" y="44.7" width="0.9" height="0.9" fill="#5a8090"/><rect x="25.8" y="28.0" width="0.9" height="0.9" fill="#5a8090"/><rect x="35.1" y="44.5" width="0.9" height="0.9" fill="#5a8090"/><rect x="28.5" y="45.0" width="0.9" height="0.9" fill="#5a8090"/><rect x="31.8" y="30.7" width="0.9" height="0.9" fill="#5a8090"/><rect x="32.7" y="11.7" width="0.9" height="0.9" fill="#5a8090"/><rect x="29.3" y="17.8" width="0.9" height="0.9" fill="#5a8090"/><rect x="11.7" y="40.6" width="0.9" height="0.9" fill="#5a8090"/><rect x="18.5" y="28.5" width="0.9" height="0.9" fill="#5a8090"/><rect x="40.9" y="31.6" width="0.9" height="0.9" fill="#5a8090"/><rect x="24.7" y="30.2" width="0.9" height="0.9" fill="#5a8090"/><rect x="34.0" y="40.0" width="0.9" height="0.9" fill="#5a8090"/><rect x="15.8" y="31.7" width="0.9" height="0.9" fill="#5a8090"/><rect x="21.6" y="21.2" width="0.9" height="0.9" fill="#5a8090"/><rect x="42.8" y="29.8" width="0.9" height="0.9" fill="#5a8090"/><rect x="34.3" y="39.1" width="0.9" height="0.9" fill="#5a8090"/><rect x="48.5" y="27.4" width="0.9" height="0.9" fill="#5a8090"/><rect x="36.3" y="29.7" width="0.9" height="0.9" fill="#5a8090"/><rect x="32.2" y="36.6" width="0.9" height="0.9" fill="#5a8090"/><rect x="29.8" y="30.7" width="0.9" height="0.9" fill="#5a8090"/><rect x="30.9" y="45.8" width="0.9" height="0.9" fill="#5a8090"/><rect x="39.8" y="43.4" width="0.9" height="0.9" fill="#5a8090"/><rect x="49.7" y="20.6" width="0.9" height="0.9" fill="#5a8090"/><rect x="34.2" y="45.9" width="0.9" height="0.9" fill="#5a8090"/><rect x="45.5" y="16.1" width="0.9" height="0.9" fill="#5a8090"/><rect x="16.4" y="27.4" width="0.9" height="0.9" fill="#5a8090"/><rect x="14.4" y="19.9" width="0.9" height="0.9" fill="#5a8090"/><rect x="14.5" y="35.8" width="0.9" height="0.9" fill="#5a8090"/><rect x="43.2" y="44.2" width="0.9" height="0.9" fill="#5a8090"/><rect x="17.8" y="37.5" width="0.9" height="0.9" fill="#5a8090"/><rect x="38.2" y="16.3" width="0.9" height="0.9" fill="#5a8090"/><rect x="47.3" y="46.8" width="0.9" height="0.9" fill="#5a8090"/><rect x="20.4" y="46.2" width="0.9" height="0.9" fill="#5a8090"/><rect x="27.6" y="29.0" width="0.9" height="0.9" fill="#5a8090"/><rect x="51.6" y="41.8" width="0.9" height="0.9" fill="#5a8090"/><rect x="18.0" y="27.0" width="0.9" height="0.9" fill="#5a8090"/><rect x="32.4" y="23.5" width="0.9" height="0.9" fill="#5a8090"/><rect x="19.4" y="22.8" width="0.9" height="0.9" fill="#5a8090"/><rect x="40.7" y="11.7" width="0.9" height="0.9" fill="#5a8090"/><rect x="33.9" y="27.3" width="0.9" height="0.9" fill="#5a8090"/><rect x="12.2" y="23.3" width="0.9" height="0.9" fill="#5a8090"/><rect x="36.8" y="30.0" width="0.9" height="0.9" fill="#5a8090"/><rect x="14.1" y="47.4" width="0.9" height="0.9" fill="#5a8090"/><rect x="43.4" y="47.0" width="0.9" height="0.9" fill="#5a8090"/><rect x="15.7" y="20.8" width="0.9" height="0.9" fill="#5a8090"/><rect x="13.1" y="39.8" width="0.9" height="0.9" fill="#5a8090"/><rect x="22.5" y="15.8" width="0.9" height="0.9" fill="#5a8090"/><rect x="28.6" y="44.7" width="0.9" height="0.9" fill="#5a8090"/><rect x="44.7" y="20.6" width="0.9" height="0.9" fill="#5a8090"/><rect x="11.5" y="48.5" width="40.5" height="5.8" fill="#c4e8f6"/><line x1="11.5" y1="48.5" x2="52" y2="48.5" stroke="#6a9aaa" stroke-width="0.8"/>
<rect x="44" y="44" width="12.5" height="10.6" fill="#a8a8a8" stroke="#1a1a1a" stroke-width="0.8"/>
<path d="M50,39.3 L62.5,39.3 L62.5,43.3 L55,45 Z" fill="#a8a8a8" stroke="#1a1a1a" stroke-width="0.8"/>
<circle cx="52" cy="46.8" r="6.2" fill="#b4b4b4" stroke="#1a1a1a" stroke-width="0.9"/>
<circle cx="52" cy="46.8" r="3.3" fill="#fff" stroke="#333" stroke-width="0.6"/>
<line x1="-1" y1="49.2" x2="4" y2="49.2" stroke="#111" stroke-width="2"/>
<line x1="56" y1="21.9" x2="63" y2="21.9" stroke="#111" stroke-width="2"/>
</g>
<path d="M851,174.2 L882,174.2 L882,192.6 M866.4,192.6 L866.4,177.8 L896,177.8 L896,192.6 M873.8,177.8 L873.8,192.6 M889,177.8 L889,192.6" fill="none" stroke="#111" stroke-width="2"/>
<polygon points="847.00,169.70 851.60,174.20 847.00,178.70 847.00,176.10 844.70,176.10 844.70,172.30 847.00,172.30" fill="#d4d4cc" stroke="#2a2a2a" stroke-width="1" stroke-linejoin="miter"/>
<polygon points="848.90,226.10 853.50,230.60 848.90,235.10 848.90,232.50 846.60,232.50 846.60,228.70 848.90,228.70" fill="#d4d4cc" stroke="#2a2a2a" stroke-width="1" stroke-linejoin="miter"/>
<polygon points="916.50,198.80 921.10,203.30 916.50,207.80 916.50,205.20 914.20,205.20 914.20,201.40 916.50,201.40" fill="#c8d8e0" stroke="#2a2a2a" stroke-width="1" stroke-linejoin="miter"/>
<polygon points="915.90,218.40 920.50,222.90 915.90,227.40 915.90,224.80 913.60,224.80 913.60,221.00 915.90,221.00" fill="#d4d4cc" stroke="#2a2a2a" stroke-width="1" stroke-linejoin="miter"/>
<path d="M988,193.5 Q1003,195 1008,211" fill="none" stroke="#1a48d0" stroke-width="6"/>
<path d="M988,192 Q1005,193 1010.3,211 M988,195 Q1001,197.5 1005.7,211" fill="none" stroke="#5a8af0" stroke-width="0.9"/>
<rect x="961.7" y="181.2" width="27" height="15.4" fill="url(#effpipe)" stroke="#111" stroke-width="1"/>
<ellipse cx="989" cy="188.9" rx="3.8" ry="7.7" fill="#111"/>
<rect x="961.7" y="210.8" width="70.3" height="24.6" fill="url(#watergrad)" stroke="#1a1a1a" stroke-width="0.9"/>
<polygon points="962.2,211.3 992.5,211.3 1008,234.9 962.2,234.9" fill="url(#groundgrad)"/>
<ellipse cx="1019" cy="222.5" rx="4" ry="2.2" fill="#d08a40"/>
<polygon points="961.80,185.10 966.40,189.60 961.80,194.10 961.80,191.50 959.50,191.50 959.50,187.70 961.80,187.70" fill="#c8d8e0" stroke="#2a2a2a" stroke-width="1" stroke-linejoin="miter"/>
<path d="M766,413.6 L805,413.6" fill="none" stroke="#111" stroke-width="2"/>
<path d="M766,413.6 L766,424" fill="none" stroke="#111" stroke-width="2"/>
<path d="M730,440.2 L740,440.2" fill="none" stroke="#111" stroke-width="2"/>
<path d="M790,440.2 L800,440.2" fill="none" stroke="#111" stroke-width="2"/>
<path d="M737.3,433 C737.3,424 752,421.6 766,421.6 C780,421.6 793.8,424 793.8,433 L793.8,459.5 L766.5,470.8 L737.3,459.5 Z" fill="#c4c4c4" stroke="#1a1a1a" stroke-width="1"/>
<path d="M741,433.5 C741,427 753,424.6 766,424.6 C779,424.6 790.3,427 790.3,433.5 L790.3,440 L741,440 Z" fill="#5a5a5a" stroke="#222" stroke-width="0.6"/>
<path d="M741.3,436.5 Q745,433 752,433.5 Q760,432.5 766,433 Q774,432.3 782,433.5 Q788,433 790,436 L790,458 L766.5,467 L741.3,458 Z" fill="url(#diggrad)" stroke="#2a2a2a" stroke-width="0.7"/>
<path d="M751.3,450.9 L779.2,450.9 M751.3,446.5 L751.3,455.5 M779.2,446.5 L779.2,455.5 M765.9,439.6 L765.9,451" fill="none" stroke="#111" stroke-width="2"/>
<rect x="762.9" y="421.9" width="6" height="6" fill="#b8b8b8" stroke="#222" stroke-width="0.8"/>
<rect x="793.5" y="440.5" width="6.5" height="10" fill="#fff"/>
<path d="M780,463.5 L780,453 L789,449.5 L800,448.7 L800,452.7 L794.5,455 L794.5,463.5 Z" fill="#a8a8a8" stroke="#1a1a1a" stroke-width="0.8"/>
<circle cx="789.1" cy="456.8" r="6" fill="#b4b4b4" stroke="#1a1a1a" stroke-width="0.9"/>
<circle cx="789.1" cy="456.8" r="3.2" fill="#fff" stroke="#333" stroke-width="0.6"/>
<polygon points="730.70,435.70 735.30,440.20 730.70,444.70 730.70,442.10 728.40,442.10 728.40,438.30 730.70,438.30" fill="#d4d4cc" stroke="#2a2a2a" stroke-width="1" stroke-linejoin="miter"/>
<polygon points="800.50,409.10 805.10,413.60 800.50,418.10 800.50,415.50 798.20,415.50 798.20,411.70 800.50,411.70" fill="#d4d4cc" stroke="#2a2a2a" stroke-width="1" stroke-linejoin="miter"/>
<polygon points="799.80,435.70 804.40,440.20 799.80,444.70 799.80,442.10 797.50,442.10 797.50,438.30 799.80,438.30" fill="#d4d4cc" stroke="#2a2a2a" stroke-width="1" stroke-linejoin="miter"/>
<polygon points="801.10,446.40 805.70,450.90 801.10,455.40 801.10,452.80 798.80,452.80 798.80,449.00 801.10,449.00" fill="#d4d4cc" stroke="#2a2a2a" stroke-width="1" stroke-linejoin="miter"/>
<line x1="852" y1="446" x2="868" y2="446" stroke="#111" stroke-width="2"/>
<line x1="903" y1="446.5" x2="913" y2="446.5" stroke="#111" stroke-width="2"/>
<line x1="882" y1="467" x2="882" y2="480" stroke="#111" stroke-width="2"/>
<polygon points="857.5,420.5 892.5,420.5 904,431.5 904,467.3 868,467.3 857.5,456.5" fill="#0c0cdc" stroke="#0a0a0a" stroke-width="0.9"/>
<polygon points="857.5,420.5 868,431.5 868,467.3 857.5,456.5" fill="#121210"/>
<polygon points="868,431.5 904,467.3 868,467.3" fill="#3a3616"/>
<polygon points="857.5,420.5 892.5,420.5 904,431.5 868,431.5" fill="#1010d8"/>
<polygon points="847.00,441.50 851.60,446.00 847.00,450.50 847.00,447.90 844.70,447.90 844.70,444.10 847.00,444.10" fill="#d4d4cc" stroke="#2a2a2a" stroke-width="1" stroke-linejoin="miter"/>
<polygon points="915.90,442.00 920.50,446.50 915.90,451.00 915.90,448.40 913.60,448.40 913.60,444.60 915.90,444.60" fill="#c8d8e0" stroke="#2a2a2a" stroke-width="1" stroke-linejoin="miter"/>
<polygon points="877.50,481.20 882.00,485.80 886.50,481.20 883.90,481.20 883.90,478.90 880.10,478.90 880.10,481.20" fill="#d4d4cc" stroke="#2a2a2a" stroke-width="1" stroke-linejoin="miter"/>
<path d="M975,423.5 Q986,424 989.5,432.5" fill="none" stroke="#a89a3a" stroke-width="3.2"/>
<rect x="963" y="420" width="13.4" height="7.8" rx="1.2" fill="url(#nozgrad)" stroke="#1a1a1a" stroke-width="0.8"/>
<polygon points="965.60,419.50 961.00,424.00 965.60,428.50 965.60,425.90 967.90,425.90 967.90,422.10 965.60,422.10" fill="#d8d8d8" stroke="#2a2a2a" stroke-width="1" stroke-linejoin="miter"/>
<rect x="966" y="461" width="64" height="8" fill="#1e1e1e"/>
<polygon points="1016.3,438.5 1023.5,438.5 1032.6,447.5 1032.6,467.7 1016.3,467.7" fill="#8c8c8c" stroke="#1a1a1a" stroke-width="0.8"/>
<polygon points="1023.5,441 1024.5,449.5 1032,449.5 1032,447.5" fill="#70b8a8" stroke="#2a2a2a" stroke-width="0.6"/>
<rect x="965.6" y="434.9" width="50.7" height="31.4" fill="url(#tankgrad)" stroke="#1a1a1a" stroke-width="0.8"/>
<ellipse cx="965.6" cy="450.6" rx="3.8" ry="15.7" fill="#1e1e1e"/>
<line x1="973.5" y1="459.9" x2="1012.7" y2="459.9" stroke="#111" stroke-width="1.8"/>
<rect x="982" y="432" width="15.6" height="4" fill="#a8983a" stroke="#1a1a1a" stroke-width="0.6"/>
<ellipse cx="989.9" cy="432.6" rx="7.8" ry="3" fill="#b8a850" stroke="#1a1a1a" stroke-width="0.7"/>
<circle cx="972.1" cy="470.5" r="6.3" fill="#141414"/><circle cx="972.1" cy="470.5" r="2.6" fill="#9a9a9a"/>
<circle cx="985.6" cy="470.5" r="6.3" fill="#141414"/><circle cx="985.6" cy="470.5" r="2.6" fill="#9a9a9a"/>
<circle cx="1017.7" cy="470.5" r="6.3" fill="#141414"/><circle cx="1017.7" cy="470.5" r="2.6" fill="#9a9a9a"/>
<rect x="80.3" y="417.2" width="176" height="42.4" rx="2" fill="#e0dddd"/>
<rect x="85.4" y="419.9" width="32.5" height="37.5" fill="#1c5c1e"/>
<polygon points="99.4,424.3 113.4,434.6 113.4,453.3 84.5,453.3 84.5,435.2" fill="#eaf8e6"/>
<polygon points="99.4,426.7 111.2,435.4 111.2,450.6 85.6,450.6 85.6,437.4" fill="#1c5c1e"/>
<polygon points="99.4,429.6 108.9,436.8 108.9,448.4 89.8,448.4 89.8,437" fill="#dcd8d8"/>
<polygon points="85.6,437.4 91.5,433.6 89.8,437 89.8,448.4 85.6,448.4" fill="#eaf8e6"/>
<ellipse cx="86.3" cy="441.8" rx="1.6" ry="3" fill="#1c5c1e"/><rect x="85.7" y="441" width="1.3" height="9.5" fill="#1c5c1e"/>
<text x="126" y="442.5" font-family="Liberation Serif" font-weight="bold" font-size="18" textLength="121.5" lengthAdjust="spacingAndGlyphs" fill="#111">www.abpsoil.com</text>
<text x="47.5" y="44" font-family="Liberation Sans" font-size="12" fill="#262626" textLength="40.6" lengthAdjust="spacing">Influent</text>
<text x="373.6" y="162.5" font-family="Liberation Sans" font-size="12" fill="#262626" textLength="84.1" lengthAdjust="spacing">Anaerobic Tank</text>
<text x="499.5" y="162.5" font-family="Liberation Sans" font-size="12" fill="#262626" textLength="64.4" lengthAdjust="spacing">Anoxic Tank</text>
<text x="611.6" y="162.5" font-family="Liberation Sans" font-size="12" fill="#262626" textLength="71.1" lengthAdjust="spacing">Aerobic Tank</text>
<text x="741.9" y="162.5" font-family="Liberation Sans" font-size="12" fill="#262626" textLength="41.9" lengthAdjust="spacing">Clarifier</text>
<text x="849.4" y="162.5" font-family="Liberation Sans" font-size="12" fill="#262626" textLength="58.6" lengthAdjust="spacing">Sand Filter</text>
<text x="973.4" y="162.5" font-family="Liberation Sans" font-size="12" fill="#262626" textLength="41.5" lengthAdjust="spacing">Effluent</text>
<text x="739.5" y="397.5" font-family="Liberation Sans" font-size="12" fill="#262626" textLength="46.8" lengthAdjust="spacing">Digester</text>
<text x="847.5" y="397.5" font-family="Liberation Sans" font-size="12" fill="#262626" textLength="63.7" lengthAdjust="spacing">Dewatering</text>
<text x="974.9" y="397.5" font-family="Liberation Sans" font-size="12" fill="#262626" textLength="38.5" lengthAdjust="spacing">Sludge</text>
</svg>
</body></html>
